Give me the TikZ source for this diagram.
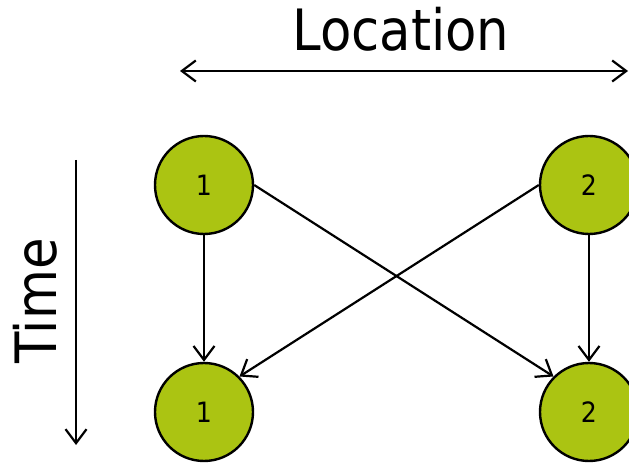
\documentclass[tikz,border=0pt]{standalone}
\usepackage{fontspec}
\setmainfont{DejaVu Sans Condensed}
\usetikzlibrary{arrows.meta}
\definecolor{slotgreen}{RGB}{171,196,18}
\begin{document}
\begin{tikzpicture}[x=1pt, y=1pt,
	slot/.style={draw, circle, line width=2.4pt, fill=slotgreen, minimum size=98pt, inner sep=0pt, font=\fontsize{28}{28}\selectfont},
	axis/.style={font=\fontsize{57}{57}\selectfont, inner sep=0pt},
	barb/.tip={Straight Barb[length=14pt, width=21pt, line width=2.2pt]},
	link/.style={line width=2.2pt, -barb}]
	\clip (0,0) rectangle (629,466);
	\useasboundingbox (0,0) rectangle (629,466);
	\node [slot] (t1) at (204,281) {1};
	\node [slot] (t2) at (589,281) {2};
	\node [slot] (b1) at (204,54) {1};
	\node [slot] (b2) at (589,54) {2};
	\draw [link] (t1) -- (b1);
	\draw [link] (t2) -- (b2);
	\draw [link] (t1.east) -- (b2.north west);
	\draw [link] (t2.west) -- (b1.north east);
	\node [axis, anchor=base] (loc) at (401,415) {Location};
	\coordinate (locL) at (180,395);
	\coordinate (locR) at (628,395);
	\draw [link, barb-barb] (locL) -- (locR);
	\node [axis, rotate=90] (time) at (35,165) {Time};
	\coordinate (timeT) at (76,306);
	\coordinate (timeB) at (76,21);
	\draw [link] (timeT) -- (timeB);
\end{tikzpicture}
\end{document}
